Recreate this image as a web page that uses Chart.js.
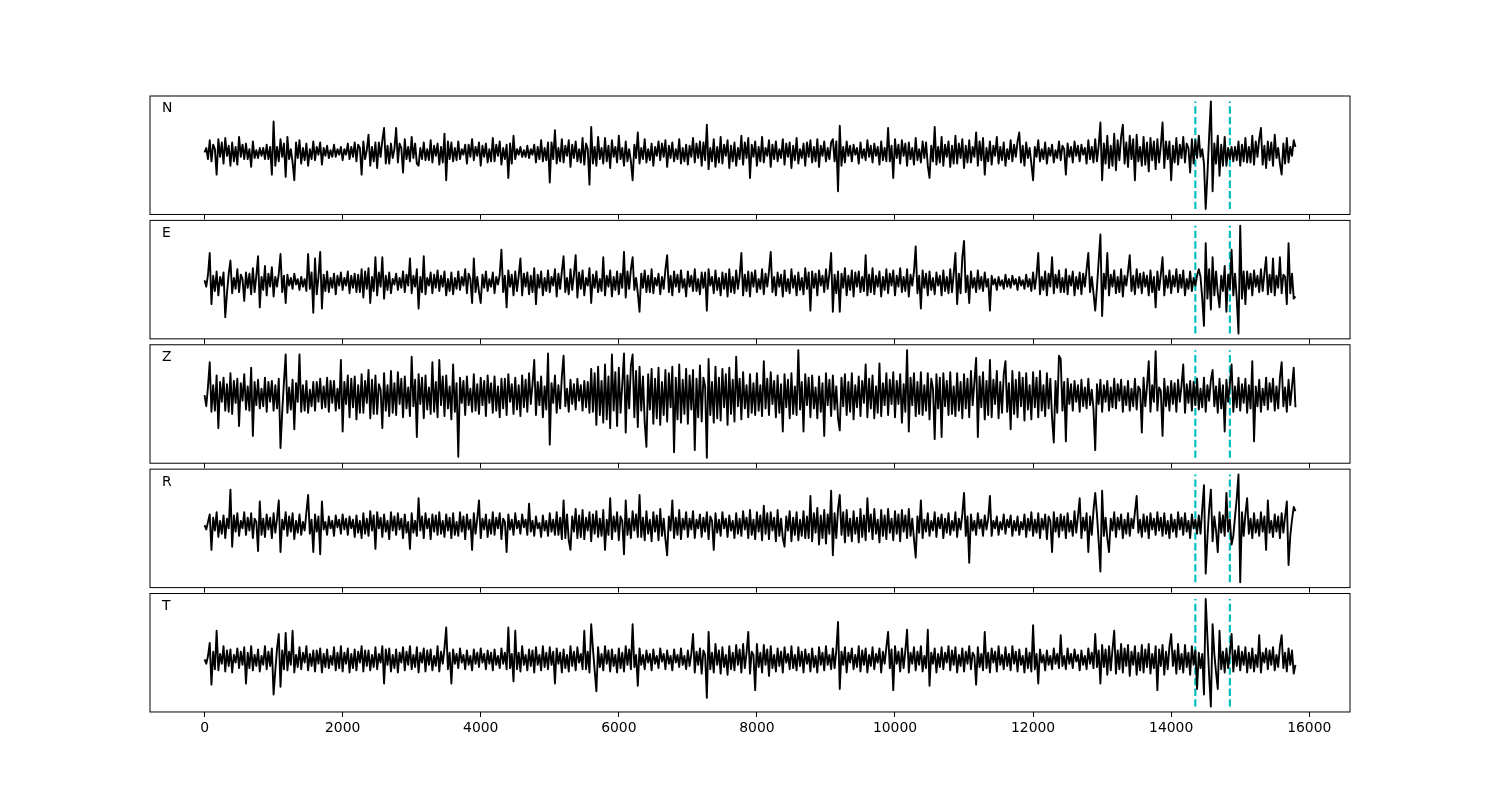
<!DOCTYPE html>
<html>
<head>
<meta charset="utf-8">
<script src="https://cdn.jsdelivr.net/npm/chart.js@4.4.1/dist/chart.umd.min.js"></script>
<style>
  html, body { margin: 0; padding: 0; background: #fff; }
  #wrap { position: relative; width: 1500px; height: 800px; }
  #wrap canvas { position: absolute; left: 0; top: 0; }
</style>
</head>
<body>
<div id="wrap"></div>
<script>
// samples are 25 units apart along x
const sampleStep = 25;
const xTicks = [0, 2000, 4000, 6000, 8000, 10000, 12000, 14000, 16000];
const xMin = -790;
const xMax = 16590;
const pickTimes = [14350, 14850];
const componentNames = ["N", "E", "Z", "R", "T"];

// main swings (amplitude units, up = positive)
const traceN = [
  0, 11, -8, -20, 12, -10, 13, -12, 9, -11, 14, -6, 8, -13, 10, -5, 4, -6, 7, -20,
  28, -8, 12, -22, 14, -9, -25, 11, -10, 8, -12, 10, -7, 9, -11, 6, -5, 7, -4, 5,
  -7, 8, -6, 9, -8, -20, 10, 16, -12, 9, -14, 11, 22, -10, 8, 22, -9, -18, 12, -8,
  14, -10, -12, 9, -7, 11, -9, 8, -11, 17, -25, 9, -8, 10, -6, 7, -10, 12, -7, 9,
  -12, 8, -9, 13, -8, 10, -11, 7, -23, 15, -6, 5, -4, 6, -5, 7, -9, 11, -8, 9,
  -27, 20, -10, 12, -9, 11, -13, 10, -8, 13, -11, -29, 23, -12, 14, -10, 13, -14, 11, -9,
  15, -12, 10, -8, -25, 18, -10, 12, -9, 8, -12, 10, -7, 11, -13, 9, -8, 12, -10, 7,
  -11, 13, -9, 10, -12, 25, -15, 12, -13, 14, -10, 11, -14, 9, -12, 15, -11, 13, -23, 10,
  -12, 14, -9, 11, -13, 10, -8, 12, -11, 9, -14, 13, -10, 8, -12, 11, -9, 12, -13, 10,
  -8, 9, 12, -35, 24, -9, 10, -8, 7, -10, 9, -7, 11, -9, 8, -11, 10, -8, 22, -23,
  12, -10, 11, -12, 9, -11, 13, -9, 10, -12, -23, 23, -11, 14, -12, 10, -13, 15, -10, 12,
  -14, 11, -9, 18, -12, 13, -20, 10, -11, 14, -10, 9, -12, 11, -8, 10, 18, -12, 9, -10,
  -25, 11, -8, 9, -10, 7, -9, 10, -7, -20, 8, -9, 10, -8, 7, -10, 11, -9, 12, 27,
  -25, 15, -14, 17, -16, 14, 25, -13, 15, -25, 16, -12, 14, -17, 13, -15, 12, 27, -14, 10,
  -25, 13, -11, 14, -9, -18, 12, -5, 15, -10, -51, 46, -35, 15, -21, 14, -12, 5, -8, 10,
  -12, 13, -9, 15, -11, 12, 22, -14, 10, -12, 16, -10, -20, 13, -9, 11, 5
];
// two in-between samples for every pair of main swings
const fillN = [
  4, -6, 7, 3, -4, 9, -3, 6, -8, 5, -4, 7, -6, 3, -5, 2, -3, 4, -6, 5,
  -12, 5, -4, 8, -6, 3, 9, -5, 4, -7, 3, -6, 5, -2, 4, -3, 2, -4, 3, -2,
  3, -2, 5, -4, 7, 4, -6, 2, 5, -8, 9, -4, -10, 6, -5, 3, 8, 4, -6, 5,
  -5, 8, 4, -6, 3, -7, 6, -3, 5, -9, 10, -6, 4, -7, 3, -2, 7, -4, 5, -3,
  6, -4, 3, -8, 7, -3, 4, -6, 8, -10, 3, -2, 2, -4, 3, -2, 5, -6, 4, -7,
  9, -6, 4, -8, 6, -3, 7, -5, 3, -9, 8, 3, -10, 5, -6, 4, -8, 6, -4, 5,
  -6, 4, -8, 3, 7, -5, 4, -6, 3, -7, 5, -3, 8, -4, 6, -5, 3, -6, 4, -8,
  6, -4, 8, -5, 9, -7, 4, -8, 5, -9, 7, -3, 6, -8, 4, -6, 9, -5, 7, -4,
  5, -8, 4, -3, 7, -6, 3, -5, 8, -4, 6, -7, 3, -5, 9, -4, 5, -8, 6, -3,
  4, -6, -8, 10, -12, 5, -3, 6, -2, 4, -5, 3, -4, 6, -3, 5, -7, 4, -8, 6,
  -5, 7, -3, 8, -6, 4, -7, 3, -5, 9, 6, -8, 5, -9, 7, -4, 6, -10, 8, -5,
  6, -9, 5, -4, 10, -7, 4, -8, 6, -3, 5, -7, 3, -6, 7, -4, -9, 6, -5, 4,
  5, -4, 3, -6, 4, -3, 2, -5, 6, 3, -4, 5, -3, 6, -2, 4, -6, 5, -8, 6,
  8, -10, 6, -12, 11, -7, -10, 9, -6, 12, -8, 5, -11, 9, -7, 10, -9, 6, 10, -6,
  6, -9, 7, -5, 8, 4, -10, 11, -4, 3, -20, 15, 8, -10, 7, -12, 4, -6, 5, -7,
  7, -8, 5, -9, 10, -4, -11, 6, -7, 9, -5, 4, 8, -10, 5, -3
];

const traceE = [
  2, 27, -20, 10, -12, 9, -32, 20, -10, 12, -9, -17, 9, -11, 13, 24, -23, 15, -12, 14,
  -13, 8, 26, -19, 7, -6, 8, -7, 5, -8, 26, -28, 22, 28, -24, 10, -9, 8, -11, 9,
  -7, 10, -10, 8, -9, 12, -14, 13, -19, 23, -12, 23, -15, 9, -10, 8, -7, 10, -9, 22,
  -10, 12, -24, 24, -11, 9, -10, 11, -8, 10, -12, 9, -11, 10, -7, 12, -10, -19, 22, -9,
  -19, 10, -8, 9, -10, 7, 30, -23, 11, -12, 10, 22, -12, 9, -11, 13, -20, 10, -12, 11,
  -9, 12, -13, 10, 24, -11, 12, 25, -14, 11, -12, 13, -19, 10, -9, 23, -12, 11, -13, 10,
  -11, 28, -14, 12, 23, -10, -27, 11, -9, 12, -10, 8, -11, 12, 25, -12, 10, -9, 11, -13,
  10, -8, 12, -11, 9, -26, 12, -10, 11, -12, 9, -13, 12, -10, 11, 27, -12, 10, -13, 11,
  -9, 12, -11, 10, 28, -12, 9, -13, 11, -10, 12, -12, 9, -11, 13, -26, 10, -12, 11, -9,
  12, 27, -27, 10, -27, 13, -12, 11, -13, 10, -9, 25, -12, 13, -11, 10, -13, 12, -10, 11,
  -12, 13, -9, 12, -13, 10, 33, -24, 11, -12, 10, -11, 9, -12, 11, -10, 12, 27, -20, 23,
  38, -19, 10, -9, 11, -8, 9, -26, 6, -7, 5, -6, 7, -5, 6, -7, 5, -6, 7, -8,
  9, 27, -11, 10, -12, 23, -10, 11, -9, 12, -11, 10, -12, 9, -11, 12, 27, -10, -26, 44,
  -31, 27, -12, 11, -10, 12, -13, 10, 25, -11, 12, -10, 9, -12, 11, -23, 10, 23, -12, 11,
  -10, 12, -9, 11, -12, 10, -8, 6, 12, -40, 36, -25, 23, -10, -23, 15, -27, 30, -12, -47,
  52, -20, 10, -12, 11, -9, 12, 23, -11, 22, -12, 23, -10, -20, 36, -15, -13
];
const fillE = [
  -4, 7, 6, -8, 5, -3, -10, 8, 4, -6, 7, 3, -5, 8, -9, 6, 5, -7, 8, -4,
  5, -4, -9, 6, -3, 4, -2, 3, -4, 3, -6, 9, -11, 5, 7, -8, 4, -5, 6, -3,
  4, -3, 6, -5, 7, -9, 10, -6, 5, -8, 9, -4, 6, -7, 3, -2, 4, -5, 7, -3,
  6, -4, 5, -9, 4, -3, 7, -5, 6, -4, 3, -8, 4, -6, 5, -3, 8, 3, -9, 5,
  7, -5, 3, -4, 5, -2, -9, 6, -4, 7, -8, 6, 8, -4, 6, -9, 7, -5, 4, -8,
  5, -3, 8, -6, -9, 4, -7, 7, 9, -6, 4, -3, 7, -5, 3, -8, 6, -4, 5, -7,
  8, -5, 10, -6, -7, 4, 8, -5, 6, -9, 4, -3, 5, -6, -9, 6, -4, 7, -5, 3,
  -4, 6, -8, 3, -5, 9, -3, 5, -7, 4, -6, 8, -9, 5, -6, 6, 7, -8, 9, -4,
  3, -6, 8, -4, -9, 5, -4, 7, -8, 3, -5, 6, -7, 4, -6, 9, -5, 8, -3, 6,
  -6, 8, 7, -10, 8, -5, 6, -7, 9, -4, 5, -8, 7, -9, 6, -4, 5, -7, 8, -3,
  6, -4, 5, -8, 7, -3, -10, 6, -5, 8, -7, 4, -3, 6, -8, 5, -9, 8, 8, -10,
  -9, 6, -5, 4, -6, 5, -4, 3, -2, 3, -3, 2, -4, 3, -2, 3, -3, 2, -4, 3,
  -6, 6, 5, -7, 8, -4, 7, -5, 4, -9, 6, -3, 5, -6, 8, -4, -9, 5, -5, 20,
  8, -6, 7, -4, 5, -9, 6, -3, -8, 6, -5, 8, -4, 6, -9, 5, -7, 7, 6, -5,
  6, -4, 7, -5, 3, -6, 4, -3, 5, -15, -15, 12, -12, 10, 6, -8, 7, -6, 8, -15,
  -15, 10, -6, 8, -4, 6, -8, 8, 7, -9, 6, -5, 7, 5, -10, 8
];

const traceZ = [
  0, 30, -15, 18, -30, 16, -14, 20, -17, 15, -28, 19, -13, 25, -37, 14, -12, 16, -15, 13,
  -14, 15, -48, 37, -16, 14, -31, 37, -15, 13, -16, 12, -14, 15, -12, 16, -15, 13, -14, 32,
  -33, 18, -20, 17, -22, 19, -16, 23, -21, 18, -17, -30, 20, -19, 22, -18, 21, -20, 17, -19,
  35, -38, 19, -21, 18, -17, 30, -20, 32, -19, 18, -22, 28, -56, 16, -18, 17, -15, 19, -17,
  16, -19, 18, -16, 17, -20, 15, -18, 19, -17, 16, -19, 18, -15, 20, 32, -18, 17, -20, 38,
  -45, 18, -16, 17, 36, -15, 14, -13, 15, -14, 13, -16, 24, -27, 26, -25, 28, -30, 37, -28,
  25, 38, -34, 27, 37, -29, 26, -25, -47, 24, -26, 25, -27, 23, -24, 26, -52, 28, -25, 24,
  -26, 23, -50, 27, -24, -57, 33, -25, 26, -23, 24, -27, 25, -24, 35, -22, 21, -20, 19, -18,
  20, -19, 31, -18, 21, -20, 18, -33, 19, -21, 20, -18, 41, -33, 19, -20, 18, -21, 17, -37,
  20, -19, 18, -21, -32, 19, -18, 20, -22, 17, -19, 28, -20, 18, -21, 29, -19, 20, -18, 21,
  -20, 19, -25, 41, -33, 20, -19, 21, -18, 20, -22, -40, 19, -38, 20, -18, 21, -19, 20, -21,
  19, -20, 22, 34, -38, 21, -22, 32, -20, 22, -21, 19, 31, -31, 22, -20, 21, -23, 20, -22,
  21, -20, 22, -19, 20, -21, -43, 36, 33, -42, 15, -14, 13, -15, 14, -12, 15, -13, -50, 14,
  -15, 13, -14, 15, -12, 14, -15, 13, -14, 15, -13, -34, 16, 31, -15, 40, -14, -37, 15, -14,
  13, -15, 14, 28, -16, 13, -14, 15, -13, 16, -15, 14, 23, -16, 15, -33, 14, 28, -15, 16,
  -14, 15, -16, 31, -42, 14, -15, 16, -13, 15, -14, 16, 30, -15, 14, 25, -11
];
const fillZ = [
  -10, 8, 9, -14, 12, -6, 10, -15, 13, -7, 11, -5, 8, -14, 12, -9, 6, -10, 12, -6,
  9, -12, -15, 12, 7, -13, 11, -6, 9, -14, 5, -10, 12, -6, 8, -11, 13, -7, 6, -12,
  12, -8, 15, -11, 9, -16, 13, -7, 14, -17, 10, 5, -14, 9, -16, 11, -8, 15, -12, 7,
  -10, 14, -8, 16, -13, 7, -15, 12, -9, 17, -12, 8, -15, 11, -7, 13, -9, 6, -14, 10,
  -9, 13, -7, 11, -14, 8, -12, 15, -6, 10, -13, 9, -11, 14, -8, 10, 12, -9, 8, -13,
  11, -7, 9, -12, -10, 6, -8, 10, -5, 9, -11, 12, -15, 20, -18, 13, -22, 17, -14, 21,
  -16, 10, 18, -12, -20, 22, -14, 17, 19, -13, 15, -21, 12, -18, 20, -11, 16, -22, 14, -17,
  18, -13, 15, -20, 16, 8, -18, 12, -21, 16, -11, 19, -17, 14, -10, 15, -12, 9, -16, 11,
  -14, 9, -12, 15, -8, 13, -16, 10, -11, 14, -17, 8, -13, 12, -9, 16, -12, 7, -15, 11,
  -9, 14, -13, 8, 16, -10, 12, -15, 9, -11, 13, -7, 15, -12, 8, -16, 11, -9, 14, -8,
  13, -8, 10, -15, 16, -9, 12, -17, 9, -14, 15, 6, -12, 16, -10, 13, -17, 8, -14, 12,
  -12, 15, -9, 12, 17, -11, 13, -18, 14, -8, 12, -16, -15, 11, -17, 14, -10, 16, -13, 9,
  -11, 16, -14, 9, -12, 15, 13, -16, -14, 12, -8, 10, -6, 9, -10, 7, -9, 5, 10, -8,
  9, -6, 7, -11, 10, -5, 8, -9, 6, -10, 8, 5, -10, 8, 9, -6, 7, 4, -10, 8,
  -8, 11, -6, 9, 10, -7, 12, -9, 6, -11, 9, -5, -10, 8, -12, 9, -6, 10, 8, -11,
  10, -7, 9, -12, 8, -10, 6, -9, 11, -6, 8, -12, -10, 7, -9, 8
];

const traceR = [
  0, 10, -23, 12, -11, 9, -12, 33, -20, 11, -10, 12, -9, 11, -12, -24, 22, -11, 10, -12,
  11, 23, -25, 12, -10, 11, -13, 10, -9, 12, 28, -25, 10, -27, 22, -9, 8, -10, 9, -8,
  10, -9, 8, -11, 9, -12, 11, -10, 13, -22, 12, -11, 10, -13, 12, -9, 11, -12, 10, -22,
  11, -10, 25, -12, 11, -13, 10, -9, 12, -11, 10, -12, 11, -10, 12, -13, 10, -23, 11, 23,
  -12, 10, -11, 12, -9, 11, -13, -25, 10, -9, 11, -8, 10, -9, 20, -10, 8, -11, 9, -10,
  11, -9, 12, -13, 23, -14, -23, 15, -12, 14, -13, 12, -15, 13, -11, 14, -23, 25, -13, 12,
  -14, -27, 23, -12, 13, -11, 28, -14, 13, -15, 12, -14, 15, -13, -28, 23, -12, 14, -13, 12,
  -11, 13, -12, 10, -11, 12, -13, -23, 11, -10, 12, -11, 9, -12, 11, -10, 13, -12, 14, -13,
  12, -14, 18, -13, 12, -15, 14, -12, -20, 13, -15, 12, -14, 13, -12, 27, -15, 16, -18, 14,
  -17, 32, -28, 15, 28, -16, 14, -15, 13, -16, 15, -14, 25, -13, 15, -16, 14, -13, 15, -14,
  13, -15, 14, -12, 15, -13, -30, 23, -12, 11, -10, 12, -11, 10, -12, 11, -9, 12, -11, 10,
  30, -35, 10, -9, 11, -10, 9, 27, -10, 8, -9, 10, -8, 9, -10, 8, -9, 10, -11, 12,
  -10, 11, -12, 10, -13, -25, 12, -11, 10, -12, 11, -10, 13, 25, -12, 11, -25, 14, 30, -43,
  32, -12, -25, 12, -11, 10, -12, 11, -10, 12, 27, -11, 10, -12, 11, -9, 12, -10, 11, -12,
  10, -11, 12, -9, 11, -12, 10, -8, 9, 37, -45, 33, -15, -25, 12, -10, 30, -18, -10, 47,
  -53, 10, 25, -12, 11, -10, 12, -23, 23, -11, 10, -12, 11, 22, -37, 17, 13
];
const fillR = [
  -4, 3, 7, -5, 4, -8, 6, -3, 9, -6, 4, -3, 7, -5, 6, 3, -9, 6, -4, 7,
  -7, 6, 5, -4, 8, -6, 4, -7, 3, -5, -8, 5, -6, 8, -4, 3, -3, 4, -2, 5,
  -4, 6, -3, 5, -7, 4, -8, 6, -5, 9, -3, 7, -6, 4, -5, 8, -4, 6, -7, 3,
  -7, 4, -5, 8, -3, 6, -6, 9, -8, 4, -5, 7, -9, 3, -6, 8, -4, 5, -8, 6,
  6, -4, 5, -8, 7, -3, 6, 3, -4, 5, -3, 4, -2, 5, -6, 4, -3, 2, -5, 4,
  -6, 5, -9, 7, -12, 10, 8, -6, 9, -11, 7, -5, 10, -8, 6, -10, 5, -9, 8, -6,
  8, 4, -9, 6, -5, 10, -11, 7, -8, 5, -6, 9, -10, 6, 8, -5, 7, -9, 6, -4,
  6, -4, 5, -3, 7, -6, 8, 4, -7, 5, -3, 6, -5, 4, -8, 6, -4, 7, -9, 5,
  -6, 9, -8, 11, -5, 7, -10, 6, 8, -5, 7, -9, 5, -10, 8, -12, 11, -7, 9, -12,
  10, -8, 11, -12, -9, 12, -10, 6, -8, 7, -11, 9, -6, 10, -8, 5, -10, 9, -7, 6,
  -8, 10, -6, 9, -10, 6, 8, -7, 5, -6, 4, -5, 7, -3, 6, -7, 4, -5, 6, -4,
  -10, 8, -5, 4, -3, 5, -4, 6, 4, -3, 3, -4, 5, -2, 4, -5, 3, -4, 6, -5,
  5, -7, 6, -4, 8, 4, -6, 7, -5, 8, -6, 4, -7, 8, 7, -5, 8, -9, 10, -15,
  -10, 7, 6, -5, 7, -4, 5, -8, 6, -3, -7, 5, -6, 8, -4, 6, -5, 7, -8, 4,
  -6, 5, -4, 7, -6, 4, -3, 5, -8, 15, -12, 15, 8, -5, -7, 9, -6, 5, 8, 25,
  12, -10, -8, 6, -7, 5, -6, 8, -7, 4, -6, 8, -7, 8, -10, 5
];

const traceT = [
  0, 15, -23, 26, -10, 12, -11, 9, -12, 10, -8, 11, -22, 12, -10, 9, -11, 12, -9, 10,
  -32, 23, -25, 24, -10, 26, -12, 11, -9, 12, -10, 8, -11, 10, -12, 9, -8, 11, -10, 12,
  -11, 10, -12, 9, -10, 12, -11, 8, -10, 11, -9, 12, -22, 10, -11, 9, -12, 11, -10, 12,
  -9, 11, -12, 10, -11, 9, -10, 12, -11, 10, 29, -22, 9, -8, 10, -9, 8, -10, 9, -7,
  10, -9, 8, -10, 9, -8, 10, -9, 29, -20, 26, -11, 12, -10, 9, -12, 11, -10, 12, -9,
  11, -22, 10, -12, 9, -11, 12, -10, 11, -9, 26, -12, 32, -29, 11, -10, 12, -11, 9, -12,
  10, -11, 12, -9, 32, -24, 10, -9, 8, -10, 9, -8, 10, -9, 8, -10, 9, -7, 10, -9,
  8, 23, -12, 10, -13, -35, 25, -12, 14, -13, 11, -14, 12, -10, 13, -12, 14, 25, -13, -28,
  14, -12, 13, -15, 12, -11, 10, -12, 11, -9, 12, -10, 11, -12, 9, -11, 10, -12, 11, -10,
  12, -9, 10, 34, -27, 11, -12, 10, -9, 12, -11, 10, -12, 11, -9, 10, -12, 11, 25, -28,
  12, -11, 10, 27, -12, 11, -10, 12, -11, 27, -24, 10, -12, 11, -9, 12, -10, 11, -12, 10,
  -11, 12, -9, -23, 11, -10, 25, -12, 10, -11, 12, -9, 11, -10, 12, -11, 9, -12, 10, -11,
  31, -22, 9, -10, 8, -9, 10, -8, 22, -9, 10, -8, 9, -10, 8, -9, 10, -8, 23, -22,
  13, -14, 12, 26, -13, 14, -12, 13, -15, 12, -14, 13, -12, 14, -13, 12, -28, 13, -14, 12,
  23, -13, 14, -12, 13, -14, 12, -27, 6, -32, 55, -43, 32, -27, 26, -12, 10, 23, -11, 12,
  -10, 11, -12, 10, -11, 22, -12, 10, -9, 11, -10, 12, 22, -11, 10, -13, -5
];
const fillT = [
  -4, 3, 7, -9, 5, -4, 8, -6, 4, -3, 7, -5, 6, -8, 4, -6, 3, -5, 7, -6,
  -10, 10, 8, -9, 7, -5, 4, -7, 6, -3, 5, -6, 8, -4, 5, -7, 3, -5, 6, -8,
  6, -4, 5, -8, 7, -3, 8, -6, 4, -7, 5, -3, 9, -5, 4, -8, 6, -3, 7, -5,
  4, -7, 6, -3, 8, -5, 3, -6, 7, -4, -9, 6, -4, 5, -3, 4, -5, 3, -4, 6,
  -3, 5, -4, 6, -5, 3, -4, 6, -8, 5, -9, 6, -5, 4, -6, 8, -5, 4, -7, 6,
  -5, 7, -4, 6, -8, 4, -6, 7, -3, 5, -9, 7, 10, -10, -7, 5, -4, 8, -6, 4,
  -8, 6, -5, 9, -7, 4, -5, 4, -3, 5, -4, 3, -2, 5, -4, 3, -3, 4, -5, 3,
  -6, 5, 7, -5, 8, 4, -9, 6, -5, 8, -7, 4, -9, 6, -5, 9, -8, 6, 7, 4,
  -7, 6, -5, 9, -8, 4, -6, 7, -3, 5, -8, 4, -6, 7, -4, 5, -7, 3, -5, 6,
  -5, 4, -8, 8, 7, -5, 6, -3, 4, -7, 8, -5, 4, -6, 5, -3, 7, -4, -8, 9,
  -4, 7, -8, 8, 6, -4, 7, -5, 3, -8, 6, -4, 5, -7, 6, -3, 8, -5, 4, -6,
  7, -4, 6, 3, -7, 5, -8, 6, -3, 7, -5, 4, -6, 5, -4, 7, -5, 3, -8, 6,
  -9, 5, -3, 4, -5, 3, -4, 5, -6, 3, -4, 5, -2, 4, -5, 3, -4, 6, -7, 8,
  -7, 9, -10, 9, 8, -9, 10, -6, 7, -5, 6, -10, 9, -7, 5, -8, 9, -6, 7, -9,
  -6, 8, -9, 5, -7, 6, -5, 8, -8, 5, 20, -15, 5, -12, -9, 7, -8, 6, 8, -6,
  7, -5, 6, -8, 4, -7, 6, -3, 8, -5, 4, -7, -8, 6, -5, 8
];

const traces = [[traceN, fillN], [traceE, fillE], [traceZ, fillZ], [traceR, fillR], [traceT, fillT]];

// put the two in-between samples after every even main swing
function weave(main, fill) {
  const out = [];
  for (let i = 0; i < main.length; i++) {
    out.push(main[i]);
    if (i % 2 === 0 && i + 1 < main.length) {
      out.push(fill[i], fill[i + 1]);
    }
  }
  return out;
}

// figure layout (pixels)
const figLeft = 150, figRight = 1350, figTop = 96;
const panelH = 118.46, panelGap = 5.92;

// frame + component letter
function panelDecor(name) {
  return {
    id: "panelDecor",
    afterDraw(chart) {
      const { ctx, chartArea: a } = chart;
      ctx.save();
      ctx.strokeStyle = "#000";
      ctx.lineWidth = 1;
      ctx.strokeRect(a.left, a.top, a.right - a.left, a.bottom - a.top);
      ctx.fillStyle = "#000";
      ctx.font = "13.9px 'DejaVu Sans'";
      ctx.textBaseline = "middle";
      ctx.textAlign = "left";
      ctx.fillText(name, a.left + 0.01 * (a.right - a.left), a.top + 0.1 * (a.bottom - a.top) + 1);
      ctx.restore();
    }
  };
}

const wrap = document.getElementById("wrap");
traces.forEach(([main, fill], k) => {
  const trace = weave(main, fill);
  const canvas = document.createElement("canvas");
  canvas.width = 1500;
  canvas.height = 800;
  wrap.appendChild(canvas);

  const top = figTop + k * (panelH + panelGap);
  const bottom = top + panelH;
  const isLast = k === traces.length - 1;
  const axisH = isLast ? 40 : 6;

  const lo = Math.min(...trace);
  const hi = Math.max(...trace);
  const pad = (hi - lo) * 0.05;

  const datasets = [{
    data: trace.map((v, i) => ({ x: i * sampleStep, y: v })),
    borderColor: "#000",
    borderWidth: 1.9,
    pointRadius: 0,
    tension: 0,
    borderJoinStyle: "round"
  }];
  pickTimes.forEach((t) => {
    datasets.push({
      data: [{ x: t, y: lo }, { x: t, y: hi }],
      borderColor: "#00bfbf",
      borderWidth: 2.2,
      borderDash: [7.4, 3.2],
      pointRadius: 0
    });
  });

  new Chart(canvas, {
    type: "line",
    data: { datasets },
    options: {
      responsive: false,
      animation: false,
      devicePixelRatio: 1,
      layout: {
        padding: { left: figLeft, right: 1500 - figRight, top: top, bottom: 800 - bottom - axisH }
      },
      plugins: { legend: { display: false }, tooltip: { enabled: false } },
      scales: {
        x: {
          type: "linear",
          min: xMin,
          max: xMax,
          afterBuildTicks: (s) => { s.ticks = xTicks.map((v) => ({ value: v })); },
          afterFit: (s) => { s.height = axisH; },
          grid: { drawOnChartArea: false, drawTicks: true, tickLength: 5, color: "#000", lineWidth: 1 },
          border: { display: false },
          ticks: {
            display: isLast,
            color: "#000",
            padding: 3,
            autoSkip: false,
            maxRotation: 0,
            font: { family: "DejaVu Sans", size: 13.9 },
            callback: (v) => String(v)
          }
        },
        y: { display: false, min: lo - pad, max: hi + pad }
      }
    },
    plugins: [panelDecor(componentNames[k])]
  });
});
</script>
</body>
</html>
